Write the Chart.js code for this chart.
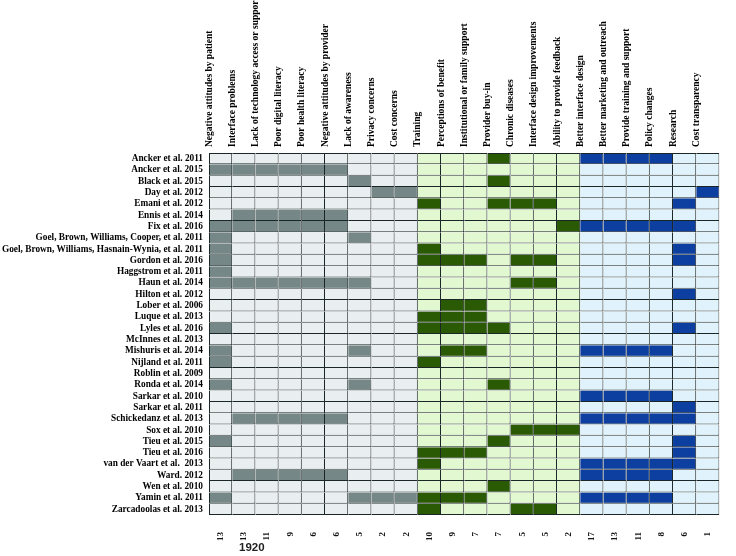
<!DOCTYPE html>
<html>
<head>
<meta charset="utf-8">
<script src="https://cdn.jsdelivr.net/npm/chart.js@4.4.1/dist/chart.umd.min.js"></script>
<style>
  body { margin: 0; background: #fff; }
  #wrap { width: 736px; height: 556px; }
</style>
</head>
<body>
<div id="wrap"><canvas id="graph"></canvas></div>
<script>
const studies = [
  'Ancker et al. 2011',
  'Ancker et al. 2015',
  'Black et al. 2015',
  'Day et al. 2012',
  'Emani et al. 2012',
  'Ennis et al. 2014',
  'Fix et al. 2016',
  'Goel, Brown, Williams, Cooper, et al. 2011',
  'Goel, Brown, Williams, Hasnain-Wynia, et al. 2011',
  'Gordon et al. 2016',
  'Haggstrom et al. 2011',
  'Haun et al. 2014',
  'Hilton et al. 2012',
  'Lober et al. 2006',
  'Luque et al. 2013',
  'Lyles et al. 2016',
  'McInnes et al. 2013',
  'Mishuris et al. 2014',
  'Nijland et al. 2011',
  'Roblin et al. 2009',
  'Ronda et al. 2014',
  'Sarkar et al. 2010',
  'Sarkar et al. 2011',
  'Schickedanz et al. 2013',
  'Sox et al. 2010',
  'Tieu et al. 2015',
  'Tieu et al. 2016',
  'van der Vaart et al.  2013',
  'Ward. 2012',
  'Wen et al. 2010',
  'Yamin et al. 2011',
  'Zarcadoolas et al. 2013',
];

const factors = [
  'Negative attitudes by patient',
  'Interface problems',
  'Lack of technology access or support',
  'Poor digital literacy',
  'Poor health literacy',
  'Negative attitudes by provider',
  'Lack of awareness',
  'Privacy concerns',
  'Cost concerns',
  'Training',
  'Perceptions of benefit',
  'Institutional or family support',
  'Provider buy-in',
  'Chronic diseases',
  'Interface design improvements',
  'Ability to provide feedback',
  'Better interface design',
  'Better marketing and outreach',
  'Provide training and support',
  'Policy changes',
  'Research',
  'Cost transparency',
];

// 0 = barriers, 1 = facilitators, 2 = recommendations
const factorGroup = [0, 0, 0, 0, 0, 0, 0, 0, 0, 1, 1, 1, 1, 1, 1, 1, 2, 2, 2, 2, 2, 2];

const counts = [13, 13, 11, 9, 6, 6, 5, 2, 2, 10, 9, 7, 7, 5, 5, 2, 17, 13, 11, 8, 6, 1];

// factor indexes reported by each study (same order as studies)
const marked = [
  [12, 16, 17, 18, 19],
  [0, 1, 2, 3, 4, 5],
  [6, 12],
  [7, 8, 21],
  [9, 12, 13, 14, 20],
  [1, 2, 3, 4, 5],
  [0, 1, 2, 3, 4, 5, 15, 16, 17, 18, 19, 20],
  [0, 6],
  [0, 9, 20],
  [0, 9, 10, 11, 13, 14, 20],
  [0],
  [0, 1, 2, 3, 4, 5, 6, 13, 14],
  [20],
  [10, 11],
  [9, 10, 11],
  [0, 9, 10, 11, 12, 20],
  [],
  [0, 6, 10, 11, 16, 17, 18, 19],
  [0, 9],
  [],
  [0, 6, 12],
  [16, 17, 18, 19],
  [20],
  [1, 2, 3, 4, 5, 16, 17, 18, 19, 20],
  [13, 14, 15],
  [0, 12, 20],
  [9, 10, 11, 20],
  [9, 16, 17, 18, 19, 20],
  [1, 2, 3, 4, 5, 16, 17, 18, 19],
  [12],
  [0, 6, 7, 8, 9, 10, 11, 16, 17, 18, 19],
  [9, 13, 14],
];

const caption = '1920';

const lightColors = ['#e9eef0', '#e2f8d1', '#e0f3fc'];
const darkColors = ['#768787', '#2a5a04', '#0c3f9f'];
const lineColor = '#1b2626';
const serifFamily = "'Liberation Serif', 'Times New Roman', serif";

function cellColor(row, col) {
  const group = factorGroup[col];
  return marked[row].includes(col) ? darkColors[group] : lightColors[group];
}

// one stacked segment per factor, every study gets one cell in it
const datasets = factors.map((factor, col) => ({
  label: factor,
  data: studies.map(() => 1),
  backgroundColor: studies.map((s, row) => cellColor(row, col)),
  borderColor: lineColor,
  borderSkipped: false,
  inflateAmount: 0,
  borderWidth: (ctx) => ({
    top: ctx.dataIndex === 0 ? 1 : 0,
    left: col === 0 ? 1 : 0,
    right: 1,
    bottom: 1,
  }),
  barPercentage: 1,
  categoryPercentage: 1,
}));

const captionPlugin = {
  id: 'caption',
  afterDraw(chart) {
    const ctx = chart.ctx;
    ctx.save();
    ctx.font = "bold 11.5px 'Liberation Sans', Arial, sans-serif";
    ctx.fillStyle = '#222';
    ctx.textBaseline = 'middle';
    ctx.fillText(caption, chart.chartArea.left + 30, chart.chartArea.bottom + 33);
    ctx.restore();
  },
};

new Chart(document.getElementById('graph'), {
  type: 'bar',
  data: { labels: studies, datasets: datasets },
  plugins: [captionPlugin],
  options: {
    indexAxis: 'y',
    responsive: true,
    maintainAspectRatio: false,
    animation: false,
    plugins: { legend: { display: false }, tooltip: { enabled: false } },
    scales: {
      x: { type: 'linear', stacked: true, min: 0, max: factors.length, display: false },
      y: {
        type: 'category',
        stacked: true,
        grid: { display: false, drawTicks: false },
        border: { display: false },
        ticks: {
          font: { family: serifFamily, weight: 'bold', size: 9.3 },
          color: '#000',
          padding: 6,
          autoSkip: false,
        },
        afterFit: (s) => { s.width = 209; },
      },
      top: {
        type: 'category',
        position: 'top',
        labels: factors,
        offset: true,
        grid: { display: false, drawTicks: false },
        border: { display: false },
        ticks: {
          font: { family: serifFamily, weight: 'bold', size: 9.5 },
          color: '#000',
          padding: 6,
          minRotation: 90,
          maxRotation: 90,
          autoSkip: false,
        },
        afterFit: (s) => { s.height = 153; },
      },
      bottom: {
        type: 'category',
        position: 'bottom',
        labels: counts.map(String),
        offset: true,
        grid: { display: false, drawTicks: false },
        border: { display: false },
        ticks: {
          font: { family: serifFamily, weight: 'bold', size: 9 },
          color: '#111',
          padding: 17,
          minRotation: 90,
          maxRotation: 90,
          autoSkip: false,
        },
        afterFit: (s) => { s.height = 41; },
      },
    },
  },
});
</script>
</body>
</html>
